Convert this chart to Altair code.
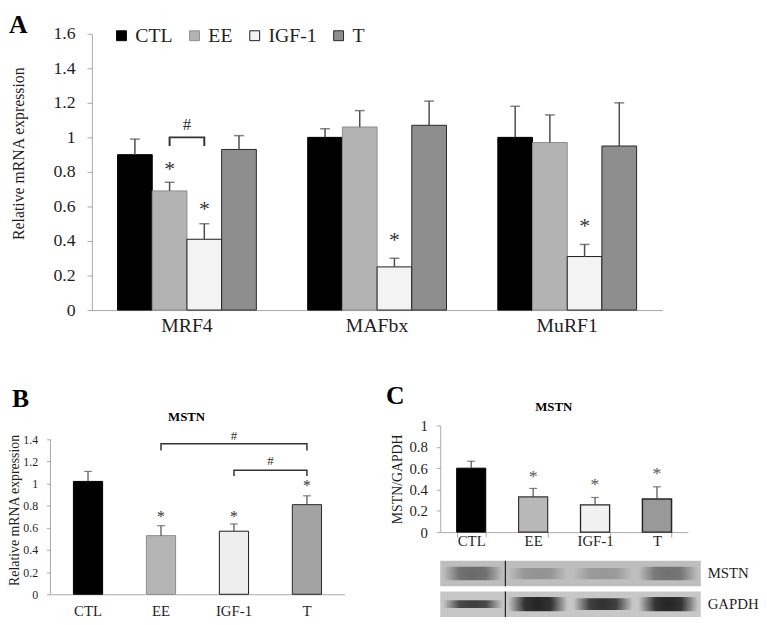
import altair as alt
import pandas as pd

FONT = "Liberation Serif"
INK = "#1f1f1f"
AXIS_GRAY = "#a8a8a8"
ERR = "#4d4d4d"

genes = ["MRF4", "MAFbx", "MuRF1"]
groups = ["CTL", "EE", "IGF-1", "T"]

# ---------------- Panel A data ----------------
a_ctl = [0.90, 1.00, 1.00]
a_ee = [0.69, 1.06, 0.97]
a_igf = [0.41, 0.25, 0.31]
a_t = [0.93, 1.07, 0.95]
a_ctl_err = [0.09, 0.05, 0.18]
a_ee_err = [0.05, 0.095, 0.16]
a_igf_err = [0.09, 0.05, 0.07]
a_t_err = [0.08, 0.14, 0.25]

a_star_gene = ["MRF4", "MRF4", "MAFbx", "MuRF1"]
a_star_grp = ["EE", "IGF-1", "IGF-1", "IGF-1"]
a_star_y = [0.82, 0.59, 0.41, 0.49]

a_br_grp = ["EE", "EE", "IGF-1", "IGF-1"]
a_br_y = [0.95, 1.0, 1.0, 0.95]
a_hash_y = [1.07]

# ---------------- Panel B data ----------------
b_mean = [1.02, 0.53, 0.57, 0.81]
b_err = [0.09, 0.09, 0.065, 0.08]
b_star_grp = ["EE", "IGF-1", "T"]
b_star_y = [0.73, 0.73, 1.01]
b_br1_grp = ["EE", "EE", "T", "T"]
b_br1_y = [1.30, 1.36, 1.36, 1.30]
b_br2_grp = ["IGF-1", "IGF-1", "T", "T"]
b_br2_y = [1.07, 1.12, 1.12, 1.07]
b_hash_grp = ["IGF-1", "IGF-1"]
b_hash_y = [1.43, 1.20]

# ---------------- Panel C data ----------------
c_mean = [0.60, 0.33, 0.255, 0.31]
c_err = [0.065, 0.08, 0.07, 0.115]
c_star_grp = ["EE", "IGF-1", "T"]
c_star_y = [0.565, 0.49, 0.595]

# ---------------- Western blot ----------------
blot_rows = ["MSTN", "GAPDH"]
blot_row_lo = [1.2, 0.0]
blot_row_hi = [2.2, 1.0]
mstn_int = [0.55, 0.28, 0.25, 0.5]
gapdh_int = [0.85, 1.0, 0.92, 1.0]
mstn_half = [0.26, 0.22, 0.22, 0.26]
gapdh_half = [0.15, 0.28, 0.23, 0.28]

fill_range = ["#000000", "#b3b3b3", "#f3f3f3", "#8e8e8e"]
stroke_range = ["#000000", "#8c8c8c", "#1a1a1a", "#262626"]
sw_range = [1, 1, 2, 2]

def fonts(**kw):
    return dict(labelFont=FONT, titleFont=FONT, **kw)

# ================= Panel A =================
rowsA = []
for i, g in enumerate(genes):
    for grp, m, e in zip(groups,
                         [a_ctl[i], a_ee[i], a_igf[i], a_t[i]],
                         [a_ctl_err[i], a_ee_err[i], a_igf_err[i], a_t_err[i]]):
        rowsA.append({"gene": g, "grp": grp, "mean": m, "top": m + e})
dfA = pd.DataFrame(rowsA)

xA = alt.X("gene:N", sort=genes,
           scale=alt.Scale(domain=genes, paddingInner=0.27, paddingOuter=0.135),
           axis=alt.Axis(**fonts(title=None, labelAngle=0, ticks=False, domainColor=AXIS_GRAY,
                                 labelFontSize=20, labelPadding=6, labelColor=INK)))
offA = alt.XOffset("grp:N", sort=groups,
                   scale=alt.Scale(domain=groups, paddingInner=0, paddingOuter=0))
yA_scale = alt.Scale(domain=[0, 1.6], nice=False)
yA_axis = alt.Axis(**fonts(values=[0, 0.2, 0.4, 0.6, 0.8, 1.0, 1.2, 1.4, 1.6], format=".1~f",
                           grid=False, domainColor=AXIS_GRAY, tickColor=AXIS_GRAY, tickSize=5,
                           labelFontSize=18, labelPadding=12, labelColor=INK,
                           title="Relative mRNA expression", titleFontSize=16,
                           titleFontWeight="normal", titleColor=INK,
                           titleX=-66, titleY=121))

legA = alt.Legend(title=None, orient="none", legendX=20, legendY=-8, direction="horizontal",
                  symbolType="square", symbolSize=100, symbolStrokeWidth=1.5,
                  labelFontSize=20, labelFont=FONT, labelColor=INK, labelOffset=4,
                  columnPadding=12)

barsA = alt.Chart(dfA).mark_bar().encode(
    x=xA, xOffset=offA,
    y=alt.Y("mean:Q", scale=yA_scale, axis=yA_axis),
    fill=alt.Fill("grp:N", sort=groups, scale=alt.Scale(domain=groups, range=fill_range), legend=legA),
    stroke=alt.Stroke("grp:N", sort=groups, scale=alt.Scale(domain=groups, range=stroke_range), legend=legA),
    strokeWidth=alt.StrokeWidth("grp:N", scale=alt.Scale(domain=groups, range=sw_range), legend=None),
)
errA = alt.Chart(dfA).mark_rule(color=ERR, strokeWidth=1.5).encode(
    x=xA, xOffset=offA, y=alt.Y("mean:Q", scale=yA_scale, axis=yA_axis), y2="top:Q")
capA = alt.Chart(dfA).mark_tick(color=ERR, thickness=1.5, size=10).encode(
    x=xA, xOffset=offA, y=alt.Y("top:Q", scale=yA_scale, axis=yA_axis))

dfAstar = pd.DataFrame({"gene": a_star_gene, "grp": a_star_grp, "y": a_star_y})
starA = alt.Chart(dfAstar).mark_text(text="*", fontSize=22, font=FONT, color="#333", dy=1).encode(
    x=xA, xOffset=offA, y=alt.Y("y:Q", scale=yA_scale, axis=yA_axis))

dfAbr = pd.DataFrame({"gene": ["MRF4"] * 4, "grp": a_br_grp, "y": a_br_y, "o": [0, 1, 2, 3]})
brA = alt.Chart(dfAbr).mark_line(color="#333", strokeWidth=2).encode(
    x=xA, xOffset=offA, y=alt.Y("y:Q", scale=yA_scale, axis=yA_axis), order="o:Q")
dfAhash = pd.DataFrame({"gene": ["MRF4"], "y": a_hash_y})
hashA = alt.Chart(dfAhash).mark_text(text="#", fontSize=17, font=FONT, color="#333").encode(
    x=xA, y=alt.Y("y:Q", scale=yA_scale, axis=yA_axis))

letterA = alt.Chart(pd.DataFrame({"t": ["A"]})).mark_text(
    fontSize=26, fontWeight="bold", font=FONT, align="left", baseline="top", color="#000").encode(
    x=alt.value(-84), y=alt.value(-22), text="t:N")

panelA = alt.layer(barsA, errA, capA, starA, brA, hashA, letterA).properties(width=578, height=280)

spacer = alt.Chart(pd.DataFrame({"v": [0]})).mark_point(opacity=0).encode(
    x=alt.value(0), y=alt.value(0)).properties(width=42, height=10)

# ================= Panel B =================
dfB = pd.DataFrame({"grp": groups, "mean": b_mean, "err": b_err})
dfB["top"] = dfB["mean"] + dfB["err"]
xB = alt.X("grp:N", sort=groups,
           scale=alt.Scale(domain=groups, paddingInner=0.6, paddingOuter=0.315),
           axis=alt.Axis(**fonts(title=None, labelAngle=0, ticks=False, domainColor=AXIS_GRAY,
                                 labelFontSize=15, labelPadding=10, labelColor=INK)))
yB_scale = alt.Scale(domain=[0, 1.525], nice=False)
yB_axis = alt.Axis(**fonts(values=[0, 0.2, 0.4, 0.6, 0.8, 1.0, 1.2, 1.4], format=".1~f",
                           grid=False, domain=False, tickColor=AXIS_GRAY, tickSize=4,
                           labelFontSize=12, labelPadding=9, labelColor=INK,
                           title="Relative mRNA expression", titleFontSize=14,
                           titleFontWeight="normal", titleColor=INK, titlePadding=1))
fillB = ["#000000", "#b5b5b5", "#eeeeee", "#a3a3a3"]
strokeB = ["#000000", "#8c8c8c", "#1a1a1a", "#262626"]

barsB = alt.Chart(dfB).mark_bar().encode(
    x=xB, y=alt.Y("mean:Q", scale=yB_scale, axis=yB_axis),
    fill=alt.Fill("grp:N", scale=alt.Scale(domain=groups, range=fillB), legend=None),
    stroke=alt.Stroke("grp:N", scale=alt.Scale(domain=groups, range=strokeB), legend=None),
    strokeWidth=alt.StrokeWidth("grp:N", scale=alt.Scale(domain=groups, range=[1, 1, 1.5, 1.5]), legend=None),
)
errB = alt.Chart(dfB).mark_rule(color=ERR, strokeWidth=1.2).encode(
    x=xB, y=alt.Y("mean:Q", scale=yB_scale, axis=yB_axis), y2="top:Q")
capB = alt.Chart(dfB).mark_tick(color=ERR, thickness=1.2, size=8).encode(
    x=xB, y=alt.Y("top:Q", scale=yB_scale, axis=yB_axis))
axisLineB = alt.Chart(pd.DataFrame({"a": [0.0], "b": [1.4]})).mark_rule(color=AXIS_GRAY).encode(
    x=alt.value(0), y=alt.Y("a:Q", scale=yB_scale, axis=yB_axis), y2="b:Q")
dfBstar = pd.DataFrame({"grp": b_star_grp, "y": b_star_y})
starB = alt.Chart(dfBstar).mark_text(text="*", fontSize=16, font=FONT, color="#333", dy=4).encode(
    x=xB, y=alt.Y("y:Q", scale=yB_scale, axis=yB_axis))
dfBbr = pd.DataFrame({"grp": b_br1_grp + b_br2_grp, "y": b_br1_y + b_br2_y,
                      "k": ["u"] * 4 + ["l"] * 4, "o": [0, 1, 2, 3] * 2})
brB = alt.Chart(dfBbr).mark_line(color="#333", strokeWidth=1.5).encode(
    x=xB, y=alt.Y("y:Q", scale=yB_scale, axis=yB_axis), detail="k:N", order="o:Q")
dfBhash = pd.DataFrame({"grp": b_hash_grp, "y": b_hash_y, "d": [0, 1]})
hashB0 = alt.Chart(dfBhash).mark_text(text="#", fontSize=13, font=FONT, color="#333").encode(
    x=xB, y=alt.Y("y:Q", scale=yB_scale, axis=yB_axis)).transform_filter("datum.d == 0")
hashB1 = alt.Chart(dfBhash).mark_text(text="#", fontSize=13, font=FONT, color="#333", dx=37).encode(
    x=xB, y=alt.Y("y:Q", scale=yB_scale, axis=yB_axis)).transform_filter("datum.d == 1")
letterB = alt.Chart(pd.DataFrame({"t": ["B"]})).mark_text(
    fontSize=26, fontWeight="bold", font=FONT, align="left", baseline="top", color="#000").encode(
    x=alt.value(-39), y=alt.value(-40), text="t:N")
titleB = alt.Chart(pd.DataFrame({"t": ["MSTN"]})).mark_text(
    fontSize=13, fontWeight="bold", font=FONT, color="#000").encode(
    x=alt.value(138), y=alt.value(-9), text="t:N")

panelB = alt.layer(barsB, errB, capB, axisLineB, starB, brB, hashB0, hashB1, letterB, titleB).properties(
    width=298, height=171)

# ================= Panel C =================
dfC = pd.DataFrame({"grp": groups, "mean": c_mean, "err": c_err})
dfC["top"] = dfC["mean"] + dfC["err"]
xC = alt.X("grp:N", sort=groups,
           scale=alt.Scale(domain=groups, paddingInner=0.53, paddingOuter=0.265),
           axis=alt.Axis(**fonts(title=None, labelAngle=0, ticks=True, tickBand="extent", tickSize=5,
                                 tickColor=AXIS_GRAY, domainColor=AXIS_GRAY,
                                 labelFontSize=15, labelPadding=-3, labelColor=INK)))
yC_scale = alt.Scale(domain=[0, 1], nice=False)
yC_axis = alt.Axis(**fonts(values=[0, 0.2, 0.4, 0.6, 0.8, 1.0], format=".1~f",
                           grid=False, domainColor=AXIS_GRAY, tickColor=AXIS_GRAY, tickSize=4,
                           labelFontSize=15, labelPadding=9, labelColor=INK,
                           title="MSTN/GAPDH", titleFontSize=14, titleFontWeight="normal",
                           titleColor=INK, titlePadding=5))
fillC = ["#000000", "#b8b8b8", "#f1f1f1", "#999999"]
barsC = alt.Chart(dfC).mark_bar().encode(
    x=xC, y=alt.Y("mean:Q", scale=yC_scale, axis=yC_axis),
    fill=alt.Fill("grp:N", scale=alt.Scale(domain=groups, range=fillC), legend=None),
    stroke=alt.Stroke("grp:N", scale=alt.Scale(domain=groups, range=["#000000", "#333333", "#262626", "#262626"]), legend=None),
    strokeWidth=alt.StrokeWidth("grp:N", scale=alt.Scale(domain=groups, range=[1, 1.5, 1.5, 1.5]), legend=None),
)
errC = alt.Chart(dfC).mark_rule(color=ERR, strokeWidth=1.2).encode(
    x=xC, y=alt.Y("mean:Q", scale=yC_scale, axis=yC_axis), y2="top:Q")
capC = alt.Chart(dfC).mark_tick(color=ERR, thickness=1.2, size=8).encode(
    x=xC, y=alt.Y("top:Q", scale=yC_scale, axis=yC_axis))
dfCstar = pd.DataFrame({"grp": c_star_grp, "y": c_star_y})
starC = alt.Chart(dfCstar).mark_text(text="*", fontSize=18, font=FONT, color="#555", dy=5).encode(
    x=xC, y=alt.Y("y:Q", scale=yC_scale, axis=yC_axis))
letterC = alt.Chart(pd.DataFrame({"t": ["C"]})).mark_text(
    fontSize=26, fontWeight="bold", font=FONT, align="left", baseline="top", color="#000").encode(
    x=alt.value(-55), y=alt.value(-43), text="t:N")
titleC = alt.Chart(pd.DataFrame({"t": ["MSTN"]})).mark_text(
    fontSize=13, fontWeight="bold", font=FONT, color="#000").encode(
    x=alt.value(115), y=alt.value(-19), text="t:N")
panelC = alt.layer(barsC, errC, capC, starC, letterC, titleC).properties(width=251, height=108)

# ================= Blot =================
dfRow = pd.DataFrame({"row": blot_rows, "lo": blot_row_lo, "hi": blot_row_hi})
dfRow["mid"] = (dfRow["lo"] + dfRow["hi"]) / 2
rowsBl = []
for r, lo, hi, ints, halfs in zip(blot_rows, blot_row_lo, blot_row_hi,
                                  [mstn_int, gapdh_int], [mstn_half, gapdh_half]):
    mid = (lo + hi) / 2
    for g, it, h in zip(groups, ints, halfs):
        rowsBl.append({"row": r, "grp": g, "inten": it, "b0": mid - h, "b1": mid + h})
dfBand = pd.DataFrame(rowsBl)

xBl = alt.X("grp:N", sort=groups, scale=alt.Scale(domain=groups, paddingInner=0, paddingOuter=0), axis=None)
yBl_scale = alt.Scale(domain=[0, 2.2], nice=False)

bgBl = alt.Chart(dfRow).mark_rect().encode(
    x=alt.value(0), x2=alt.value(264),
    y=alt.Y("lo:Q", scale=yBl_scale, axis=None), y2="hi:Q",
    fill=alt.Fill("row:N", scale=alt.Scale(domain=blot_rows, range=["#bebebe", "#c7c7c7"]), legend=None))
grad = {"gradient": "radial", "x1": 0.5, "y1": 0.5, "x2": 0.5, "y2": 0.5, "r1": 0, "r2": 0.5,
        "stops": [{"offset": 0, "color": "rgba(35,35,35,1)"},
                  {"offset": 0.45, "color": "rgba(35,35,35,0.9)"},
                  {"offset": 1, "color": "rgba(35,35,35,0)"}]}
bandBl = alt.Chart(dfBand).mark_bar(fill=grad, width={"band": 0.92}).encode(
    x=xBl, y=alt.Y("b0:Q", scale=yBl_scale, axis=None), y2="b1:Q",
    opacity=alt.Opacity("inten:Q", scale=None))
dfDiv = dfRow.assign(grp="EE")
divBl = alt.Chart(dfDiv).mark_rule(color="#222", strokeWidth=1.2).encode(
    x=alt.X("grp:N", sort=groups, scale=alt.Scale(domain=groups, paddingInner=0, paddingOuter=0),
            axis=None, bandPosition=0),
    y=alt.Y("lo:Q", scale=yBl_scale, axis=None), y2="hi:Q")
labBl = alt.Chart(dfRow).mark_text(align="left", fontSize=15, font=FONT, color=INK).encode(
    x=alt.value(271), y=alt.Y("mid:Q", scale=yBl_scale, axis=None), text="row:N")
blot = alt.layer(bgBl, bandBl, divBl, labBl).properties(width=264, height=57)

# ================= Layout =================
# (with flush bounds, nested concat groups count as zero size, so the
#  outer spacing includes panel A's plot height: 280 + 117)
rowA = alt.hconcat(spacer, panelA, spacing=0, bounds="flush").resolve_scale(
    fill="independent", stroke="independent", strokeWidth="independent")
colC = alt.vconcat(panelC, blot, spacing=29, bounds="flush").resolve_scale(
    fill="independent", stroke="independent", strokeWidth="independent", x="independent", y="independent")
rowBC = alt.hconcat(panelB, colC, spacing=97, bounds="flush").resolve_scale(
    fill="independent", stroke="independent", strokeWidth="independent")

chart = alt.vconcat(rowA, rowBC, spacing=397, bounds="flush").resolve_scale(
    fill="independent", stroke="independent", strokeWidth="independent"
).properties(padding={"left": 0, "top": 0, "right": 0, "bottom": 0}).configure_view(
    strokeWidth=0
).configure_axis(labelFont=FONT, titleFont=FONT).configure_text(font=FONT).configure_legend(labelFont=FONT)

chart.save("out.html", embed_options={"renderer": "svg", "actions": False})
